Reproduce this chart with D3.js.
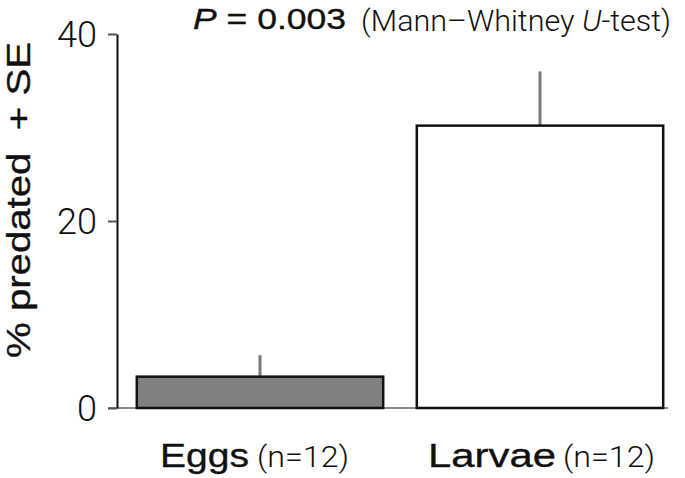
<!DOCTYPE html>
<html>
<head>
<meta charset="utf-8">
<script src="https://cdn.jsdelivr.net/npm/d3@7"></script>
<style>
  body { margin: 0; background: #fff; }
  svg { display: block; }
</style>
</head>
<body>
<div id="chart"></div>
<script>
// data
var groups = ["Eggs", "Larvae"];
var groupN = ["(n=12)", "(n=12)"];
var predated = [3.35, 30.2];
var se = [2.3, 5.8];
var yTicks = [0, 20, 40];

var width = 685, height = 478;

var svg = d3.select("#chart").append("svg")
    .attr("width", width)
    .attr("height", height);

// scales
var x = d3.scaleBand()
    .domain(groups)
    .range([120, 680])
    .paddingInner(0.12)
    .paddingOuter(0.06);
var y = d3.scaleLinear()
    .domain([0, 40])
    .range([408, 34]);

var data = groups.map(function(g, i) {
  return {group: g, n: groupN[i], value: predated[i], se: se[i]};
});

// medium-weight text: regular face with a thin outline
function medium(sel) {
  sel.attr("font-family", "Liberation Sans, Arial, sans-serif")
     .attr("font-weight", "normal")
     .attr("fill", "#111")
     .attr("stroke", "#111")
     .attr("stroke-width", 0.35)
     .attr("lengthAdjust", "spacingAndGlyphs");
}

// baseline (gray)
svg.append("line")
    .attr("x1", 108).attr("x2", 668)
    .attr("y1", y(0)).attr("y2", y(0))
    .attr("stroke", "#8a8a8a")
    .attr("stroke-width", 2);

// error bars
svg.selectAll(".err")
    .data(data)
  .enter().append("line")
    .attr("class", "err")
    .attr("x1", function(d) { return x(d.group) + x.bandwidth() / 2; })
    .attr("x2", function(d) { return x(d.group) + x.bandwidth() / 2; })
    .attr("y1", function(d) { return y(d.value); })
    .attr("y2", function(d) { return y(d.value + d.se); })
    .attr("stroke", "#7a7a7a")
    .attr("stroke-width", 3);

// bars
svg.selectAll(".bar")
    .data(data)
  .enter().append("rect")
    .attr("class", "bar")
    .attr("x", function(d) { return x(d.group); })
    .attr("width", x.bandwidth())
    .attr("y", function(d) { return y(d.value); })
    .attr("height", function(d) { return y(0) - y(d.value); })
    .attr("fill", function(d, i) { return i === 0 ? "#808080" : "#ffffff"; })
    .attr("stroke", "#111")
    .attr("stroke-width", 2.5);

// y axis
svg.append("g")
    .attr("transform", "translate(117,0)")
    .call(d3.axisLeft(y).tickValues(yTicks).tickSize(9).tickSizeOuter(0).tickPadding(11))
    .call(function(g) {
      g.select(".domain").attr("stroke", "#111").attr("stroke-width", 2);
      g.selectAll(".tick line").attr("stroke", "#555").attr("stroke-width", 2);
      g.selectAll(".tick text")
        .attr("font-family", "Roboto")
        .attr("font-weight", 300)
        .attr("font-size", 36)
        .attr("fill", "#111")
        .attr("dy", "0.36em");
    });

// y axis title
svg.append("text")
    .attr("transform", "translate(30,200) rotate(-90)")
    .attr("text-anchor", "middle")
    .attr("font-size", 33)
    .style("white-space", "pre")
    .call(medium)
    .attr("textLength", 316)
    .text("% predated  + SE");

// x labels
var lbl = svg.selectAll(".xlbl")
    .data(data)
  .enter().append("g")
    .attr("class", "xlbl");
lbl.append("text")
    .attr("x", function(d, i) { return i === 0 ? 160 : 428; })
    .attr("y", 467)
    .attr("font-size", 34)
    .call(medium)
    .attr("textLength", function(d, i) { return i === 0 ? 89 : 128; })
    .text(function(d) { return d.group; });
lbl.append("text")
    .attr("x", function(d, i) { return i === 0 ? 257 : 563; })
    .attr("y", 467)
    .attr("font-family", "Roboto")
    .attr("font-weight", 300)
    .attr("font-size", 29)
    .attr("fill", "#111")
    .attr("textLength", 92)
    .attr("lengthAdjust", "spacingAndGlyphs")
    .text(function(d) { return d.n; });

// test annotation
var pt = svg.append("text")
    .attr("x", 193).attr("y", 29)
    .attr("font-size", 29)
    .style("white-space", "pre")
    .call(medium)
    .attr("textLength", 153);
pt.append("tspan").attr("font-style", "italic").text("P");
pt.append("tspan").text(" = 0.003");

var mw = svg.append("text")
    .attr("x", 361).attr("y", 31)
    .attr("font-family", "Roboto")
    .attr("font-weight", 300)
    .attr("font-size", 29)
    .attr("fill", "#111")
    .attr("textLength", 310)
    .attr("lengthAdjust", "spacingAndGlyphs")
    .style("white-space", "pre");
mw.append("tspan").text("(Mann\u2013Whitney ");
mw.append("tspan").attr("font-style", "italic").text("U");
mw.append("tspan").text("-test)");
</script>
</body>
</html>
